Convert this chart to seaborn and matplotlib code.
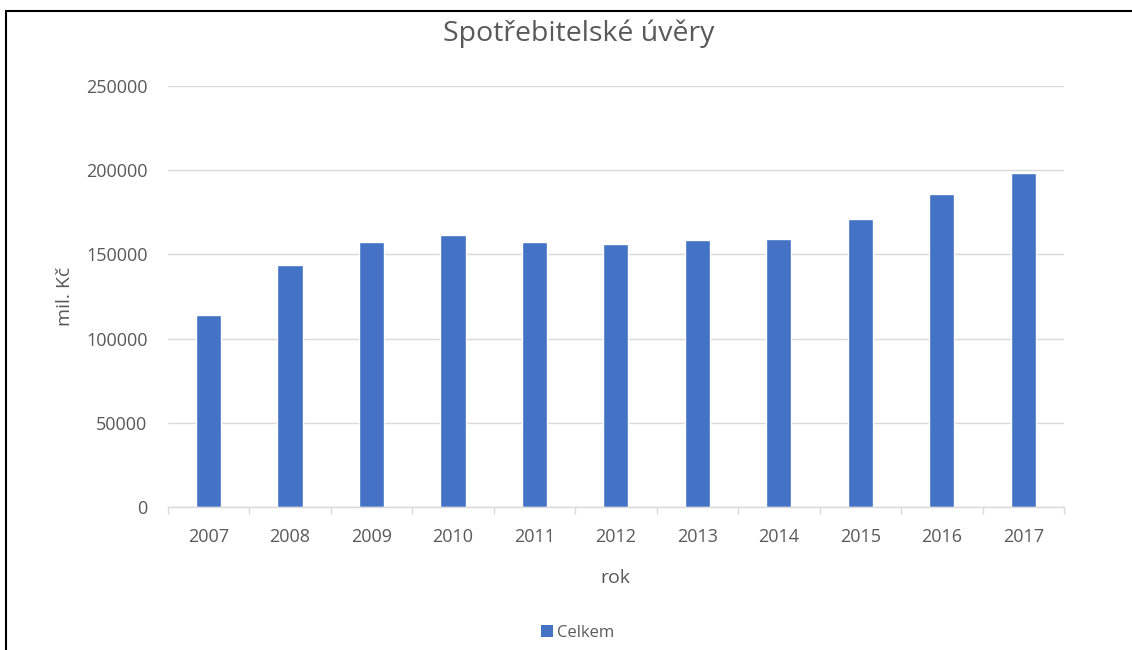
import numpy as np
import pandas as pd
import matplotlib
matplotlib.use("Agg")
import matplotlib.pyplot as plt
from matplotlib.lines import Line2D
from matplotlib.patches import Patch
import seaborn as sns

# Consumer credit totals by year (mil. Kč)
years = ["2007", "2008", "2009", "2010", "2011", "2012",
         "2013", "2014", "2015", "2016", "2017"]
celkem = [114300, 143600, 157400, 161400, 157400, 156100,
          158400, 159400, 170900, 185700, 198400]
yticks = [0, 50000, 100000, 150000, 200000, 250000]

df = pd.DataFrame({"rok": years, "Celkem": celkem})

sns.set_theme(style="white")
plt.rcParams["font.family"] = ["Open Sans", "DejaVu Sans"]

TEXT = "#595959"
GRID = "#D9D9D9"
BLUE = "#4472C4"
W, H = 1132, 650

fig = plt.figure(figsize=(W / 100, H / 100), dpi=100)
ax = fig.add_axes([0.1481, 0.22, 0.7919, 0.6477])

sns.barplot(data=df, x="rok", y="Celkem", color=BLUE, width=0.31,
            saturation=1, ax=ax)

ax.set_xlim(-0.5, len(years) - 0.5)
ax.set_ylim(0, 250000)
ax.set_yticks(yticks)
ax.set_yticklabels([str(v) for v in yticks])
ax.yaxis.grid(True, color=GRID, linewidth=1)
ax.set_axisbelow(True)

for side in ["left", "right", "top"]:
    ax.spines[side].set_visible(False)
ax.spines["bottom"].set_color(GRID)
ax.spines["bottom"].set_linewidth(1)

# category separators as tick marks on the x axis
ax.set_xticks(np.arange(-0.5, len(years), 1.0), minor=True)
ax.tick_params(axis="x", which="minor", length=5, color=GRID, width=1,
               bottom=True)
ax.tick_params(axis="x", which="major", length=0, pad=15,
               labelsize=13, labelcolor=TEXT)
ax.tick_params(axis="y", length=0, pad=14.5, labelsize=13, labelcolor=TEXT)

ax.set_xlabel("rok", fontsize=14, color=TEXT)
ax.xaxis.label.set_va("center")
ax.xaxis.set_label_coords(0.499, -0.1686)

ax.set_ylabel("mil. Kč", fontsize=14, color=TEXT)
ax.yaxis.label.set_va("center")
ax.yaxis.set_label_coords(-0.1146, 0.5)

fig.text(579 / W, 1 - 34 / H, "Spotřebitelské úvěry", fontsize=20.5,
         color=TEXT, ha="center", va="center")

handles = [Patch(facecolor=BLUE, edgecolor="none", label="Celkem")]
fig.legend(handles=handles, loc="center left",
           bbox_to_anchor=(541 / W, 1 - 633 / H),
           frameon=False, fontsize=12, handlelength=0.72, handleheight=0.72,
           handletextpad=0.25, borderpad=0, borderaxespad=0,
           labelcolor=TEXT)

# frame lines along the top and left edges
fig.add_artist(Line2D([6 / W, 6 / W], [0, 1 - 11 / H],
                      transform=fig.transFigure, color="black", lw=1.5))
fig.add_artist(Line2D([6 / W, 1], [1 - 11 / H, 1 - 11 / H],
                      transform=fig.transFigure, color="black", lw=1.5))

fig.savefig("out.png", dpi=100, facecolor="white")
